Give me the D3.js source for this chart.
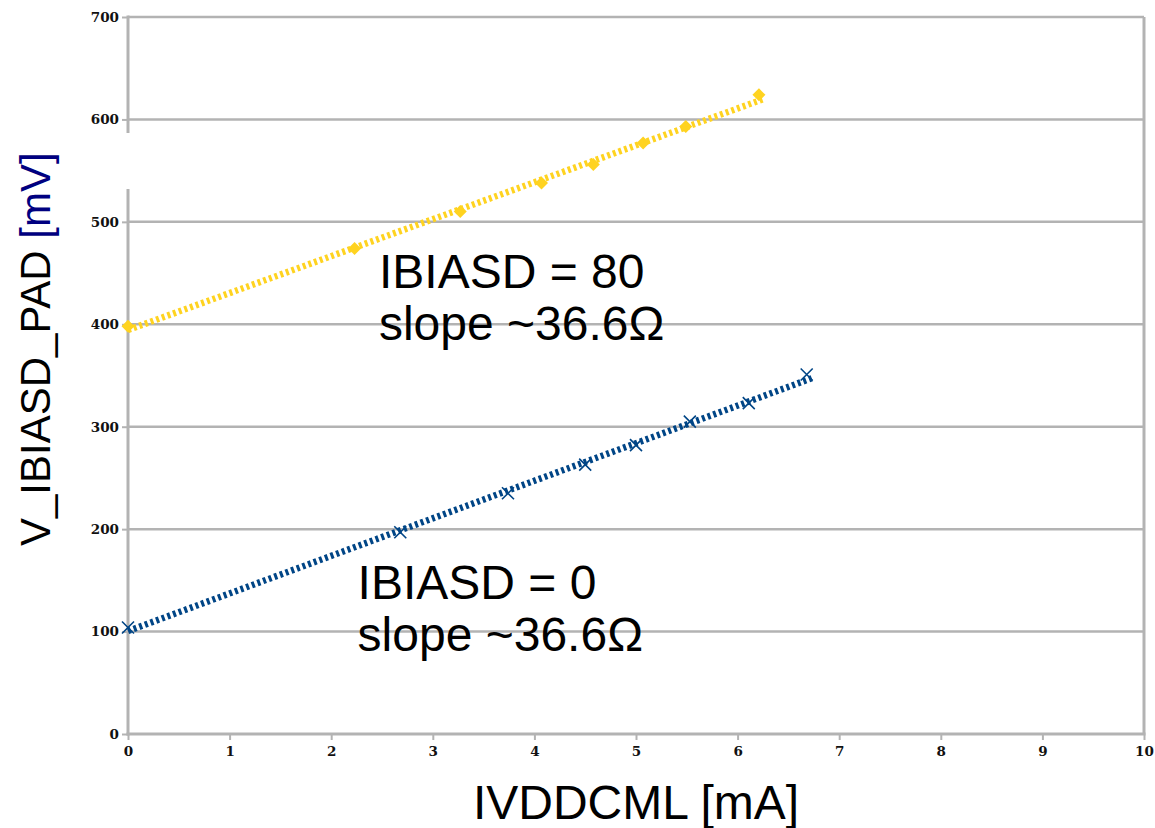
<!DOCTYPE html>
<html><head><meta charset="utf-8">
<script src="https://cdn.jsdelivr.net/npm/d3@7"></script>
<style>body{margin:0;background:#fff}svg{display:block}</style>
</head><body>
<script>
// Data
const xTicks = [0,1,2,3,4,5,6,7,8,9,10];
const yTicks = [0,100,200,300,400,500,600,700];
const ib80X = [0, 2.23, 3.27, 4.07, 4.58, 5.07, 5.49, 6.21];
const ib80Y = [398, 474, 510, 538, 556, 577, 593, 624];
const ib0X  = [0, 2.68, 3.74, 4.50, 5.00, 5.53, 6.11, 6.68];
const ib0Y  = [104, 197, 235, 263, 282, 305, 323, 351];
const annotations = [
  {lines:["IBIASD = 80","slope ~36.6Ω"], x:2.47, y:435},
  {lines:["IBIASD = 0","slope ~36.6Ω"], x:2.26, y:132}
];

const W=1155,H=828;
const m={l:128,r:11,t:17,b:94};
const svg=d3.select("body").append("svg").attr("width",W).attr("height",H);
const x=d3.scaleLinear().domain([0,10]).range([m.l,W-m.r]);
const y=d3.scaleLinear().domain([0,700]).range([H-m.b,m.t]);
const grid="#b3b3b3";

// gridlines
svg.append("g").selectAll("line").data(yTicks.filter(d=>d>0)).join("line")
  .attr("x1",x(0)).attr("x2",x(10)).attr("y1",d=>y(d)).attr("y2",d=>y(d))
  .attr("stroke",grid).attr("stroke-width",2.5);

// right border
svg.append("line").attr("x1",x(10)).attr("x2",x(10)).attr("y1",y(700)).attr("y2",y(0))
  .attr("stroke",grid).attr("stroke-width",3);

// axes
const yAx=svg.append("g").attr("transform",`translate(${x(0)},0)`)
  .call(d3.axisLeft(y).tickValues(yTicks).tickSize(6).tickPadding(3));
const xAx=svg.append("g").attr("transform",`translate(0,${y(0)})`)
  .call(d3.axisBottom(x).tickValues(xTicks).tickSize(6).tickPadding(6));
[yAx,xAx].forEach(a=>{
  a.select(".domain").remove();
  a.selectAll(".tick line").attr("stroke",grid).attr("stroke-width",2);
  a.selectAll("text").attr("font-family","DejaVu Serif").attr("font-weight","bold")
   .attr("font-size",13.5).attr("fill","#111");
});
// axis lines (left axis has a gap)
svg.append("line").attr("x1",x(0)).attr("x2",x(0)).attr("y1",y(700)-1.5).attr("y2",133)
  .attr("stroke",grid).attr("stroke-width",3);
svg.append("line").attr("x1",x(0)).attr("x2",x(0)).attr("y1",189).attr("y2",y(0)+1.5)
  .attr("stroke",grid).attr("stroke-width",3);
svg.append("line").attr("x1",x(0)-1.5).attr("x2",x(10)+1.5).attr("y1",y(0)).attr("y2",y(0))
  .attr("stroke",grid).attr("stroke-width",3);

// trend lines (least squares)
function fit(xs,ys){
  const n=xs.length,mx=d3.mean(xs),my=d3.mean(ys);
  let sxy=0,sxx=0;for(let i=0;i<n;i++){sxy+=(xs[i]-mx)*(ys[i]-my);sxx+=(xs[i]-mx)**2;}
  const b=sxy/sxx;return {a:my-b*mx,b};
}
const series=[
  {xs:ib80X,ys:ib80Y,color:"#ffd320",marker:"diamond"},
  {xs:ib0X,ys:ib0Y,color:"#004586",marker:"x"}
];
series.forEach(s=>{
  const f=fit(s.xs,s.ys);
  const x0=d3.min(s.xs),x1=d3.max(s.xs)+0.06;
  const g=svg.append("g");
  s.xs.forEach((xv,i)=>{
    const px=x(xv),py=y(s.ys[i]);
    if(s.marker==="diamond"){
      g.append("path").attr("d",`M${px},${py-6.5}L${px+6.5},${py}L${px},${py+6.5}L${px-6.5},${py}Z`)
        .attr("fill",s.color);
    } else {
      g.append("path").attr("d",`M${px-6},${py-6}L${px+6},${py+6}M${px-6},${py+6}L${px+6},${py-6}`)
        .attr("stroke",s.color).attr("stroke-width",1.6).attr("fill","none");
    }
  });
  svg.append("line").attr("x1",x(x0)).attr("y1",y(f.a+f.b*x0))
    .attr("x2",x(x1)).attr("y2",y(f.a+f.b*x1))
    .attr("stroke",s.color).attr("stroke-width",6.5).attr("stroke-dasharray","3,3");
});

// annotations
annotations.forEach(a=>{
  const t=svg.append("text").attr("font-family","Liberation Sans, Arial, sans-serif")
    .attr("font-size",48).attr("fill","#000");
  a.lines.forEach((l,i)=>t.append("tspan").attr("x",x(a.x)).attr("y",y(a.y)+i*52).text(l));
});

// axis titles
svg.append("text").attr("x",x(5)).attr("y",819).attr("text-anchor","middle")
  .attr("font-family","Liberation Sans, Arial, sans-serif").attr("font-size",48)
  .text("IVDDCML [mA]");
const yt=svg.append("text").attr("transform",`translate(50,546) rotate(-90)`)
  .attr("text-anchor","start").attr("font-family","Liberation Sans, Arial, sans-serif")
  .attr("font-size",42);
yt.append("tspan").attr("fill","#000").text("V_IBIASD_PAD");
yt.append("tspan").attr("fill","#000080").text(" [mV]");
</script>
</body></html>
